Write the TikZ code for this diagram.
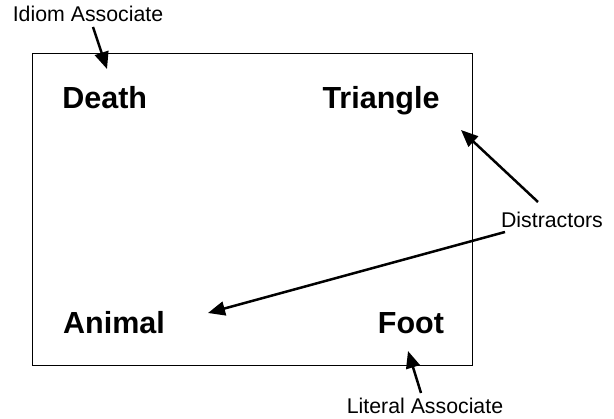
\documentclass[tikz,border=0pt]{standalone}
\usepackage{fontspec}
\setmainfont{Liberation Sans}
\usetikzlibrary{arrows.meta}
\begin{document}
\begin{tikzpicture}[x=1pt,y=-1pt,
  word/.style={font=\fontsize{30.5}{36}\selectfont\bfseries, inner sep=0pt, anchor=base},
  label/.style={font=\fontsize{21.3}{25}\selectfont, inner sep=0pt, anchor=base},
  pointer/.style={line width=2.5pt, -{Triangle[length=17pt,width=14pt]}},
  frame/.style={draw, line width=1.1pt}]
\useasboundingbox (0,0) rectangle (614,419);
\node[frame, minimum width=440pt, minimum height=312pt, inner sep=0pt, anchor=north west] (box) at (32,53) {};
\node[word] (death) at (104.7,108.3) {Death};
\node[word] (triangle) at (381,108.3) {Triangle};
\node[word] (animal) at (114,333.3) {Animal};
\node[word] (foot) at (411,333.3) {Foot};
\node[label] (idiom) at (88,21.7) {Idiom Associate};
\node[label] (distr) at (552,227.3) {Distractors};
\node[label] (literal) at (425,413.3) {Literal Associate};
\coordinate (idiomtail) at (93,27);
\coordinate (idiomtip) at (107,69);
\coordinate (d1tail) at (538,202);
\coordinate (d1tip) at (461,130);
\coordinate (d2tail) at (505,232);
\coordinate (d2tip) at (208,313);
\coordinate (littail) at (421,393);
\coordinate (littip) at (408,351);
\draw[pointer] (idiomtail) -- (idiomtip);
\draw[pointer] (d1tail) -- (d1tip);
\draw[pointer] (d2tail) -- (d2tip);
\draw[pointer] (littail) -- (littip);
\end{tikzpicture}
\end{document}
